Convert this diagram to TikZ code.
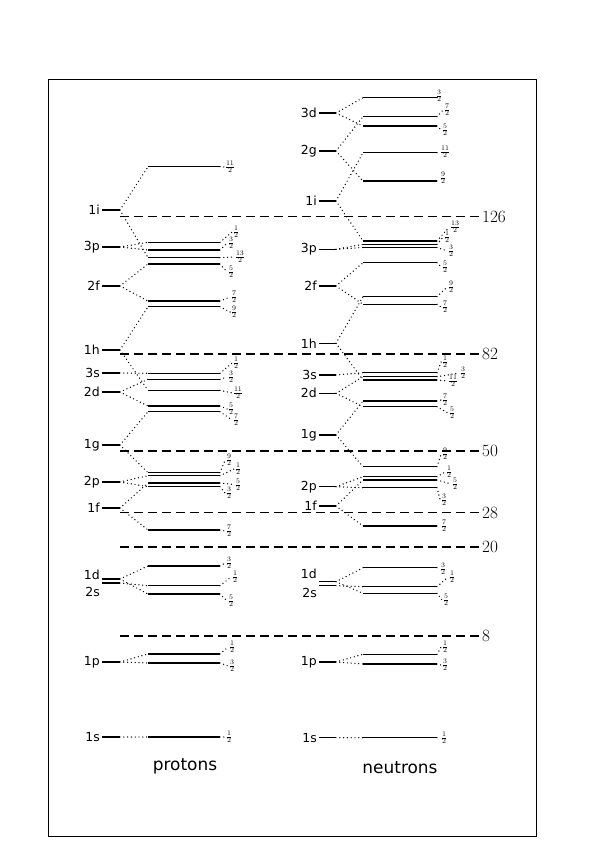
\documentclass[tikz,border=0pt]{standalone}
\usepackage{fontspec}
\newfontfamily\labfont{DejaVu Sans}
\usetikzlibrary{positioning}

\begin{document}
\begin{tikzpicture}[x=1bp,y=-1bp,
  lvl/.style={line width=1.4bp},
  dots/.style={line width=1.4bp,line cap=round,dash pattern=on 0bp off 3.8bp},
  magicline/.style={line width=1.4bp,dash pattern=on 9bp off 5bp},
  shell/.style={font=\labfont\fontsize{12.5}{14}\selectfont,inner sep=1bp,anchor=east},
  frac/.style={font=\fontsize{9.5}{11}\selectfont,inner sep=0.5bp},
  magic/.style={font=\fontsize{18}{21}\selectfont,inner sep=1bp,anchor=west},
  title/.style={font=\labfont\fontsize{17}{20}\selectfont}]
  \useasboundingbox (0,0) rectangle (595,842);
  \draw[line width=0.9bp] (48,79) rectangle (536,836);

  % magic numbers
  \foreach \y/\m in {216.7/126,354/82,451/50,512.7/28,547/20,636/8} {
    \coordinate (m\m) at (120,\y);
    \node[magic] (n\m) at (481,\y) {$\m$};
    \draw[magicline] (m\m) -- (n\m.west);
  }

  % protons
  \foreach \nm/\ly/\ty in {1s/737/737,1p/662/662,1d/579/575,2s/583/592,1f/508/508,
      2p/482/482,1g/445/445,2d/392/392,3s/373/373,1h/350/350,2f/286/286,3p/247/247,1i/210/210} {
    \node[shell] (p\nm) at (101,\ty) {\nm};
    \coordinate (p\nm-a) at (102,\ly);
    \coordinate (p\nm-b) at (120,\ly);
    \draw[lvl] (p\nm-a) -- (p\nm-b);
  }
  \foreach \sh/\id/\y/\n/\tx/\ty in {1s/a/737/1/229/737,1p/a/654/1/232/647,1p/b/663/3/232/666,
      1d/a/566/3/229/563,2s/a/585.7/1/235/577,1d/b/594/5/231/601,
      1f/a/530/7/229/531,2p/a/475.7/1/238/469,2p/b/486.7/3/229/493,1f/b/483/5/238/484.5,
      1g/a/472.7/9/229/460,1g/b/411.7/7/236/420,2d/a/379.3/3/231/377,2d/b/406/5/231/409,
      3s/a/373.3/1/236/363,1h/a/390.3/11/238/393,1h/b/306.7/9/234/312,2f/a/301/7/234/297,
      2f/b/264/5/231/272,3p/a/242.3/1/236/232,3p/b/250/3/231/243,1i/a/257.7/13/240/257,
      1i/b/166.7/11/230/167} {
    \coordinate (p\sh\id-l) at (148,\y);
    \coordinate (p\sh\id-r) at (220,\y);
    \draw[dots] (p\sh-b) -- (p\sh\id-l);
    \draw[lvl] (p\sh\id-l) -- (p\sh\id-r);
    \node[frac] (p\sh\id-t) at (\tx,\ty) {$\frac{\n}{2}$};
    \draw[dots] (p\sh\id-r) -- (p\sh\id-t.west);
  }
  \node[title] (ptitle) at (185,766) {protons};

  % neutrons
  \foreach \nm/\ly/\ty in {1s/737.7/737.7,1p/662/662,1d/581.7/574,2s/585.7/592.7,1f/506/506,
      2p/486.7/486.7,1g/435/435,2d/393.3/393.3,3s/375/375,1h/343.3/343.3,2f/286/286,
      3p/249.3/249.3,1i/201/201,2g/151/151,3d/113/113} {
    \node[shell] (n\nm) at (318,\ty) {\nm};
    \coordinate (n\nm-a) at (319,\ly);
    \coordinate (n\nm-b) at (336,\ly);
    \draw[lvl] (n\nm-a) -- (n\nm-b);
  }
  \foreach \sh/\id/\y/\n/\tx/\ty in {1s/a/737.7/1/444/738,1p/a/654.3/1/445/647,1p/b/664/3/445/665,
      1d/a/567.7/3/443/569,2s/a/586.7/1/452/577,1d/b/593.3/5/446/600,
      1f/a/526/7/444/526,1f/b/480/5/455/484,2p/a/476.7/1/449/472,2p/b/487.7/3/444/500,
      1g/a/466.7/9/445/454,1g/b/401/7/445/400,2d/a/376.7/3/463/373,2d/b/406.7/5/452/413,
      3s/a/372.7/1/445/362,1h/a/380/11/453/381,1h/b/296.7/9/451/287,2f/a/304.3/7/445/307,
      2f/b/262.7/5/445/267,3p/a/244.3/1/447/237,3p/b/247.5/3/451/251,1i/a/241/13/455/227,
      1i/b/152.7/11/445/152,2g/a/181/9/443/178,2g/b/116.7/7/447/110,3d/a/97.7/3/439/96,
      3d/b/126/5/445/130} {
    \coordinate (n\sh\id-l) at (363,\y);
    \coordinate (n\sh\id-r) at (437,\y);
    \draw[dots] (n\sh-b) -- (n\sh\id-l);
    \draw[lvl] (n\sh\id-l) -- (n\sh\id-r);
    \node[frac] (n\sh\id-t) at (\tx,\ty) {$\frac{\n}{2}$};
    \draw[dots] (n\sh\id-r) -- (n\sh\id-t.west);
  }
  \node[title] (ntitle) at (400,768) {neutrons};
\end{tikzpicture}
\end{document}
